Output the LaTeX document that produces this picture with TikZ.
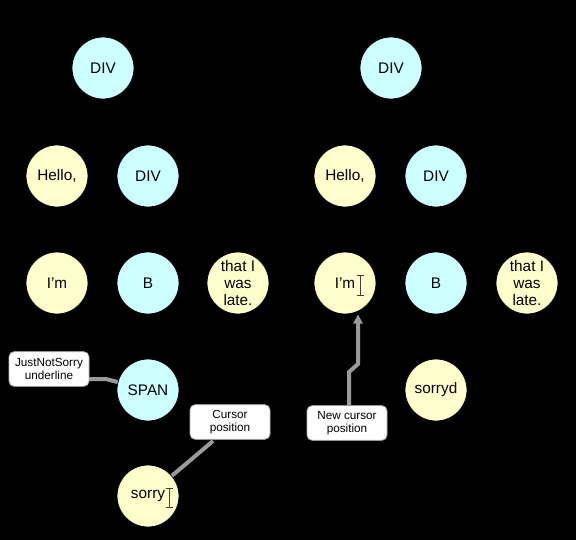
\documentclass[tikz,border=0pt]{standalone}
\usepackage{fontspec}
\setmainfont{Liberation Sans}
\usetikzlibrary{arrows.meta}
\definecolor{cyanfill}{HTML}{CCFFFF}
\definecolor{yelfill}{HTML}{FFFFCC}
\definecolor{callgray}{HTML}{9A9A9A}
\begin{document}
\begin{tikzpicture}[x=0.75pt,y=-0.75pt,
  tnode/.style={circle,draw=black,line width=0.6pt,minimum size=46.5pt,inner sep=0pt,font=\fontsize{11.5}{12.5}\selectfont,align=center},
  elem/.style={tnode,fill=cyanfill},
  txt/.style={tnode,fill=yelfill},
  callout/.style={rectangle,rounded corners=4pt,draw=callgray!70,fill=white,line width=0.6pt,font=\fontsize{8.8}{10}\selectfont,align=center,minimum width=60pt,minimum height=26pt,inner sep=2pt},
  tedge/.style={draw=black,line width=0.8pt},
  cline/.style={draw=callgray,line width=3pt},
  ibeam/.style={draw=black!75,line width=0.7pt}]
\fill[black] (0,0) rectangle (576,540);
\useasboundingbox (0,0) rectangle (576,540);
% left tree
\node[elem] (lroot) at (103,68) {DIV};
\node[txt] (lhello) at (57,176) {Hello,};
\node[elem] (ldiv) at (148,176) {DIV};
\node[txt] (lim) at (57,283) {I’m};
\node[elem] (lb) at (148,283) {B};
\node[txt] (llate) at (238,283) {that I\\was\\late.};
\node[elem] (lspan) at (148,390) {SPAN};
\node[txt] (lsorry) at (148,496) {sorry};
% right tree
\node[elem] (rroot) at (391,68) {DIV};
\node[txt] (rhello) at (345,176) {Hello,};
\node[elem] (rdiv) at (436,176) {DIV};
\node[txt] (rim) at (345,283) {I’m};
\node[elem] (rb) at (436,283) {B};
\node[txt] (rlate) at (527,283) {that I\\was\\late.};
\node[txt] (rsorryd) at (436,390) {sorryd};
% tree edges (black)
\draw[tedge] (lroot) -- (lhello);
\draw[tedge] (lroot) -- (ldiv);
\draw[tedge] (ldiv) -- (lim);
\draw[tedge] (ldiv) -- (lb);
\draw[tedge] (ldiv) -- (llate);
\draw[tedge] (lb) -- (lspan);
\draw[tedge] (lspan) -- (lsorry);
\draw[tedge] (rroot) -- (rhello);
\draw[tedge] (rroot) -- (rdiv);
\draw[tedge] (rdiv) -- (rim);
\draw[tedge] (rdiv) -- (rb);
\draw[tedge] (rdiv) -- (rlate);
\draw[tedge] (rb) -- (rsorryd);
% callouts
\node[callout] (jns) at (49,369) {JustNotSorry\\underline};
\node[callout] (cpos) at (230,422) {Cursor\\position};
\node[callout] (ncpos) at (347,423) {New cursor\\position};
\coordinate (jnsfoot) at (89,379);
\coordinate (jnsbend) at (106,379);
\coordinate (cposfoot) at (213,441);
\coordinate (jog1) at (349,372);
\coordinate (jog2) at (358,364);
\draw[cline] (jnsfoot) -- (jnsbend) -- (lspan);
\draw[cline] (cposfoot) -- (lsorry);
\draw[cline,-{Triangle[length=7pt,width=7pt]}] (ncpos.north -| jog1) -- (jog1) -- (jog2) -- (rim.south -| jog2);
% I-beam cursors
\draw[ibeam] (360,275) -- (360,295) (356.5,275) -- (363.5,275) (356.5,295) -- (363.5,295);
\draw[ibeam] (169,488) -- (169,507) (165.5,488) -- (172.5,488) (165.5,507) -- (172.5,507);
\end{tikzpicture}
\end{document}
